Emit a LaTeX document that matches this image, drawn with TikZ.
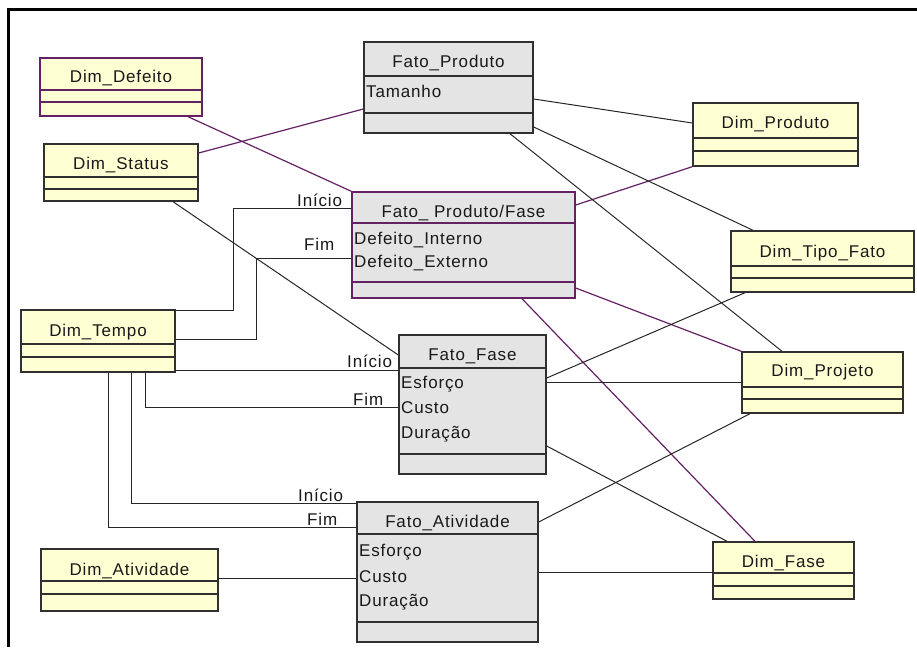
\documentclass[tikz,border=0pt]{standalone}
\usepackage{fontspec}
\setmainfont{Liberation Sans}
\newfontfamily\umlfont[LetterSpace=5]{Liberation Sans}
\usetikzlibrary{fit,calc}
\definecolor{dimfill}{HTML}{FFFFD4}
\definecolor{factfill}{HTML}{E4E4E4}
\definecolor{bord}{HTML}{303030}
\definecolor{purp}{HTML}{642264}
\tikzset{
  dimbox/.style={draw=bord, fill=dimfill, line width=1.4pt},
  factbox/.style={draw=bord, fill=factfill, line width=1.4pt},
  pdimbox/.style={draw=purp, fill=dimfill, line width=1.4pt},
  pfactbox/.style={draw=purp, fill=factfill, line width=1.4pt},
  bdiv/.style={draw=bord, line width=1.4pt},
  pdiv/.style={draw=purp, line width=1.4pt},
  txt/.style={font=\umlfont\fontsize{17}{19}\selectfont, inner sep=0pt, text=black!90},
  ttl/.style={txt, anchor=base},
  attr/.style={txt, anchor=base west},
  lbl/.style={txt, anchor=base west},
  conn/.style={draw=black!85, line width=1pt},
  pconn/.style={draw=purp, line width=1.2pt},
  frame/.style={draw=black, line width=3pt}
}
\newcommand\cls[9]{%
  \node[fit={(#2,#3) (#4,#5)}, inner sep=0pt, #8] (#1) {};
  \draw[#9] (#2,#6) -- (#4,#6) (#2,#7) -- (#4,#7);
}
\begin{document}
\begin{tikzpicture}[x=1pt,y=-1pt]
\useasboundingbox (0,0) rectangle (917,647);
\fill[white] (0,0) rectangle (917,647);
\draw[frame] (917,10) -- (8,10) -- (8,647);

% boxes
\cls{ddef}{40}{58}{202}{116}{90}{102}{pdimbox}{pdiv}
\node[ttl] (ddef-t) at (121,83) {Dim\_Defeito};
\cls{dstat}{44}{144}{198}{201}{177}{189}{dimbox}{bdiv}
\node[ttl] (dstat-t) at (121,169) {Dim\_Status};
\cls{fprod}{364}{42}{533}{133}{76}{113}{factbox}{bdiv}
\node[ttl] (fprod-t) at (448.5,68) {Fato\_Produto};
\node[attr] (fprod-a) at (366,98) {Tamanho};
\cls{fpf}{352}{192}{575}{298}{223}{282}{pfactbox}{pdiv}
\node[ttl] (fpf-t) at (463.5,217) {Fato\_ Produto/Fase};
\node[attr] (fpf-a1) at (354,244) {Defeito\_Interno};
\node[attr] (fpf-a2) at (354,267) {Defeito\_Externo};
\cls{ffase}{399}{335}{546}{474}{368}{454}{factbox}{bdiv}
\node[ttl] (ffase-t) at (472.5,360) {Fato\_Fase};
\node[attr] (ffase-a1) at (401,388) {Esforço};
\node[attr] (ffase-a2) at (401,413) {Custo};
\node[attr] (ffase-a3) at (401,438) {Duração};
\cls{fativ}{357}{502}{538}{642}{534}{622}{factbox}{bdiv}
\node[ttl] (fativ-t) at (447.5,527) {Fato\_Atividade};
\node[attr] (fativ-a1) at (359,556) {Esforço};
\node[attr] (fativ-a2) at (359,582) {Custo};
\node[attr] (fativ-a3) at (359,606) {Duração};
\cls{dtempo}{21}{310}{175}{372}{344}{357}{dimbox}{bdiv}
\node[ttl] (dtempo-t) at (98,336) {Dim\_Tempo};
\cls{dprod}{693}{103}{858}{166}{138}{151}{dimbox}{bdiv}
\node[ttl] (dprod-t) at (775.5,129) {Dim\_Produto};
\cls{dtipo}{731}{231}{914}{292}{266}{278}{dimbox}{bdiv}
\node[ttl] (dtipo-t) at (822.5,257) {Dim\_Tipo\_Fato};
\cls{dproj}{742}{352}{903}{413}{387}{399}{dimbox}{bdiv}
\node[ttl] (dproj-t) at (822.5,376) {Dim\_Projeto};
\cls{dfase}{713}{542}{854}{599}{573}{586}{dimbox}{bdiv}
\node[ttl] (dfase-t) at (783.5,567) {Dim\_Fase};
\cls{dativ}{41}{549}{218}{611}{581}{594}{dimbox}{bdiv}
\node[ttl] (dativ-t) at (129.5,575) {Dim\_Atividade};

% purple connectors
\draw[pconn] (188,0 |- ddef.south) -- (fpf.north west);
\draw[pconn] (dstat.east |- 0,153) -- (fprod.west |- 0,109);
\draw[pconn] (fpf.east |- 0,205) -- (dprod.south west);
\draw[pconn] (fpf.east |- 0,288) -- (dproj.north west);
\draw[pconn] (522,0 |- fpf.south) -- (755,0 |- dfase.north);

% black connectors
\draw[conn] (173,0 |- dstat.south) -- (ffase.west |- 0,355);
\draw[conn] (dtempo.east |- 0,310) -| (233,208) -- (fpf.west |- 0,208);
\draw[conn] (dtempo.east |- 0,339) -| (256,258) -- (fpf.west |- 0,258);
\draw[conn] (dtempo.east |- 0,370) -- (ffase.west |- 0,370);
\draw[conn] (145,0 |- dtempo.south) |- (ffase.west |- 0,407);
\draw[conn] (131,0 |- dtempo.south) |- (fativ.west |- 0,503);
\draw[conn] (108,0 |- dtempo.south) |- (fativ.west |- 0,527);
\draw[conn] (dativ.east |- 0,578) -- (fativ.west |- 0,578);
\draw[conn] (fativ.east |- 0,572) -- (dfase.west |- 0,572);
\draw[conn] (fativ.east |- 0,522) -- (750,0 |- dproj.south);
\draw[conn] (ffase.east |- 0,378) -- (745,0 |- dtipo.south);
\draw[conn] (ffase.east |- 0,382) -- (dproj.west |- 0,382);
\draw[conn] (ffase.east |- 0,446) -- (727,0 |- dfase.north);
\draw[conn] (fprod.east |- 0,99) -- (dprod.west |- 0,123);
\draw[conn] (fprod.east |- 0,127) -- (753,0 |- dtipo.north);
\draw[conn] (510,0 |- fprod.south) -- (782,0 |- dproj.north);

% role labels
\node[lbl] (l1) at (297,206) {Início};
\node[lbl] (l2) at (304,250) {Fim};
\node[lbl] (l3) at (347,367) {Início};
\node[lbl] (l4) at (353,405) {Fim};
\node[lbl] (l5) at (298,501) {Início};
\node[lbl] (l6) at (307,525) {Fim};
\end{tikzpicture}
\end{document}
